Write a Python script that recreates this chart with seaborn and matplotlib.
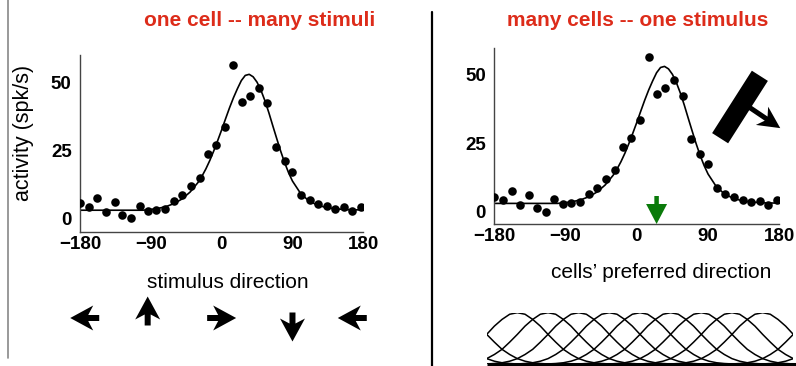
import numpy as np
import matplotlib
matplotlib.use("Agg")
import matplotlib.pyplot as plt
import seaborn as sns

directions = [-180, -169, -158, -147, -136, -126, -115, -104, -93, -83, -72, -61,
              -50, -39, -28, -17, -7, 4, 15, 26, 36, 47, 58, 69, 80, 90, 101, 112,
              123, 134, 144, 155, 166, 177]
rates = [5.5, 4.3, 7.6, 2.5, 5.9, 1.3, 0.0, 4.5, 2.8, 3.1, 3.6, 6.5,
         8.7, 11.8, 15.0, 23.5, 26.8, 33.5, 56.5, 42.9, 44.9, 48.0, 42.3, 26.3, 21.0, 17.2, 8.6, 6.6,
         5.4, 4.4, 3.4, 4.0, 2.6, 4.3]

# fitted tuning curve
fit_dirs = [-180, -150, -120, -100, -90, -80, -70, -60, -50, -40, -30, -25, -20, -15, -10, -5,
            0, 5, 10, 15, 20, 25, 30, 35, 40, 45, 50, 55, 60, 65, 70, 75, 80, 85, 90,
            100, 110, 120, 130, 140, 150, 160, 180]
fit_rates = [3.0, 3.0, 3.0, 3.0, 3.3, 3.7, 4.4, 5.5, 7.2, 9.7, 13.2, 15.5, 18.2, 21.3, 24.8, 28.6,
             32.5, 36.6, 40.6, 44.3, 47.6, 50.6, 52.5, 52.9, 52.0, 50.0, 47.0, 43.2, 38.8, 34.0,
             29.3, 24.7, 20.5, 16.8, 13.7, 9.3, 6.6, 5.1, 4.2, 3.7, 3.4, 3.2, 3.1]

xticks = [-180, -90, 0, 90, 180]
xtick_labels = ["\u2212180", "\u221290", "0", "90", "180"]
yticks = [0, 25, 50]

# stimulus arrows under the left panel
stim_dirs = [-180, -90, 0, 90, 180]
stim_arrow_x = [-174, -94, 0, 90, 166]

# decoded direction (green arrow)
pref_dir = 25

# population of tuning curves (bottom right)
bank_centers = [-2, -1, 1, 2, 3, 4, 5, 6, 7, 8, 9, 11, 12]
bank_offsets = [0, 0.25, 0.5, 0.75, 1.0, 1.25, 1.5, 1.75, 2.0, 2.25, 2.5, 2.75, 3.0, 3.5]
bank_profile = [1.0, 0.97, 0.87, 0.74, 0.58, 0.43, 0.29, 0.19, 0.11, 0.06, 0.03, 0.015, 0.007, 0.0]

RED = "#dd2c1a"
W, H = 796, 366

sns.set_style("white")
plt.rcParams["font.family"] = ["Liberation Sans", "DejaVu Sans"]
plt.rcParams["text.color"] = "black"
plt.rcParams["xtick.color"] = "black"
plt.rcParams["ytick.color"] = "black"
plt.rcParams["axes.labelcolor"] = "black"

fig = plt.figure(figsize=(W / 100, H / 100), dpi=100)


def px_axes(x0, x1, ytop, ybot):
    return fig.add_axes([x0 / W, 1 - ybot / H, (x1 - x0) / W, (ybot - ytop) / H])


def tuning_panel(ax, ylo, yhi):
    sns.lineplot(x=fit_dirs, y=fit_rates, ax=ax, color="black", linewidth=1.2, sort=False)
    sns.scatterplot(x=directions, y=rates, ax=ax, color="black", s=38, linewidth=0, zorder=3)
    ax.set_xlim(-180, 180)
    ax.set_ylim(ylo, yhi)
    ax.set_xticks(xticks)
    ax.set_xticklabels(xtick_labels)
    ax.set_yticks(yticks)
    ax.set_xlabel("")
    ax.set_ylabel("")
    for s in ["top", "right"]:
        ax.spines[s].set_visible(False)
    for s in ["left", "bottom"]:
        ax.spines[s].set_color("#444444")
        ax.spines[s].set_linewidth(1.0)
    ax.tick_params(direction="in", length=3, width=1, color="#444444", labelsize=13.5,
                   labelcolor="black")
    ax.tick_params(axis="x", pad=3)
    ax.tick_params(axis="y", pad=6)
    for lab in ax.get_xticklabels() + ax.get_yticklabels():
        lab.set_fontweight("bold")


ax1 = px_axes(80, 363.3, 55, 232)
tuning_panel(ax1, -5, 60)
ax2 = px_axes(494.3, 779.3, 48, 224)
tuning_panel(ax2, -4.5, 59.6)

# bank of tuning curves
ax3 = px_axes(486.7, 793.3, 312.7, 364.3)
for c in bank_centers:
    xs = [c - o for o in bank_offsets[::-1]] + [c + o for o in bank_offsets[1:]]
    ys = bank_profile[::-1] + bank_profile[1:]
    ax3.plot(xs, ys, color="black", lw=1.1)
ax3.set_xlim(0, 10)
ax3.set_ylim(0, 1)
ax3.axis("off")

# texts
fig.text(259.5 / W, 1 - 20 / H, "one cell -- many stimuli", color=RED, fontsize=15,
         fontweight="bold", ha="center", va="center")
fig.text(637.5 / W, 1 - 20 / H, "many cells -- one stimulus", color=RED, fontsize=15,
         fontweight="bold", ha="center", va="center")
fig.text(23 / W, 1 - 133 / H, "activity (spk/s)", fontsize=15.5, rotation=90,
         ha="center", va="center")
fig.text(228 / W, 1 - 282 / H, "stimulus direction", fontsize=15, ha="center", va="center")
fig.text(661 / W, 1 - 272 / H, "cells\u2019 preferred direction", fontsize=15,
         ha="center", va="center")

# overlay in pixel coordinates for the decorations
ov = fig.add_axes([0, 0, 1, 1])
ov.set_xlim(0, W)
ov.set_ylim(0, H)
ov.axis("off")
ov.patch.set_alpha(0)


def arrow_poly(cx, cy, ang, length, head_len, head_w, stem_w, neck):
    t = length / 2
    pts = np.array([(t, 0), (t - head_len, head_w / 2), (t - neck, stem_w / 2),
                    (-t, stem_w / 2), (-t, -stem_w / 2), (t - neck, -stem_w / 2),
                    (t - head_len, -head_w / 2)])
    a = np.deg2rad(ang)
    rot = np.array([[np.cos(a), -np.sin(a)], [np.sin(a), np.cos(a)]])
    return pts @ rot.T + [cx, cy]


# stimulus arrows
arrow_y = {-180: 48, -90: 55, 0: 48, 90: 39, 180: 48}
for d, xd in zip(stim_dirs, stim_arrow_x):
    px = ax1.transData.transform((xd, 0))[0]
    poly = arrow_poly(px, arrow_y[d], -d, 29, 23, 25, 6, 18)
    ov.fill(poly[:, 0], poly[:, 1], color="black", lw=0)

# green arrow at decoded direction
tip = ax2.transData.transform((pref_dir, -4.5))
poly = arrow_poly(tip[0], tip[1] + 14, -90, 28, 20, 21, 4.5, 20)
ov.fill(poly[:, 0], poly[:, 1], color="#0a7a0a", lw=0)

# moving bar icon
bx, by, blen, bw, bang = 740, H - 107, 74, 19, 57.5
a = np.deg2rad(bang)
u = np.array([np.cos(a), np.sin(a)])
v = np.array([-np.sin(a), np.cos(a)])
c = np.array([bx, by])
rect = np.array([c + u * blen / 2 + v * bw / 2, c - u * blen / 2 + v * bw / 2,
                 c - u * blen / 2 - v * bw / 2, c + u * blen / 2 - v * bw / 2])
ov.fill(rect[:, 0], rect[:, 1], color="black", lw=0)
poly = arrow_poly(764.5, H - 117.5, -34, 38, 22, 22, 5, 17)
ov.fill(poly[:, 0], poly[:, 1], color="black", lw=0)

# frame lines
ov.plot([8, 8], [H, H - 358], color="#888888", lw=1.2)
ov.plot([432, 432], [H - 12, 0], color="black", lw=1.6)
ov.plot([486.7, W], [1.7, 1.7], color="black", lw=2.2, solid_capstyle="butt")

fig.savefig("out.png", dpi=100)
